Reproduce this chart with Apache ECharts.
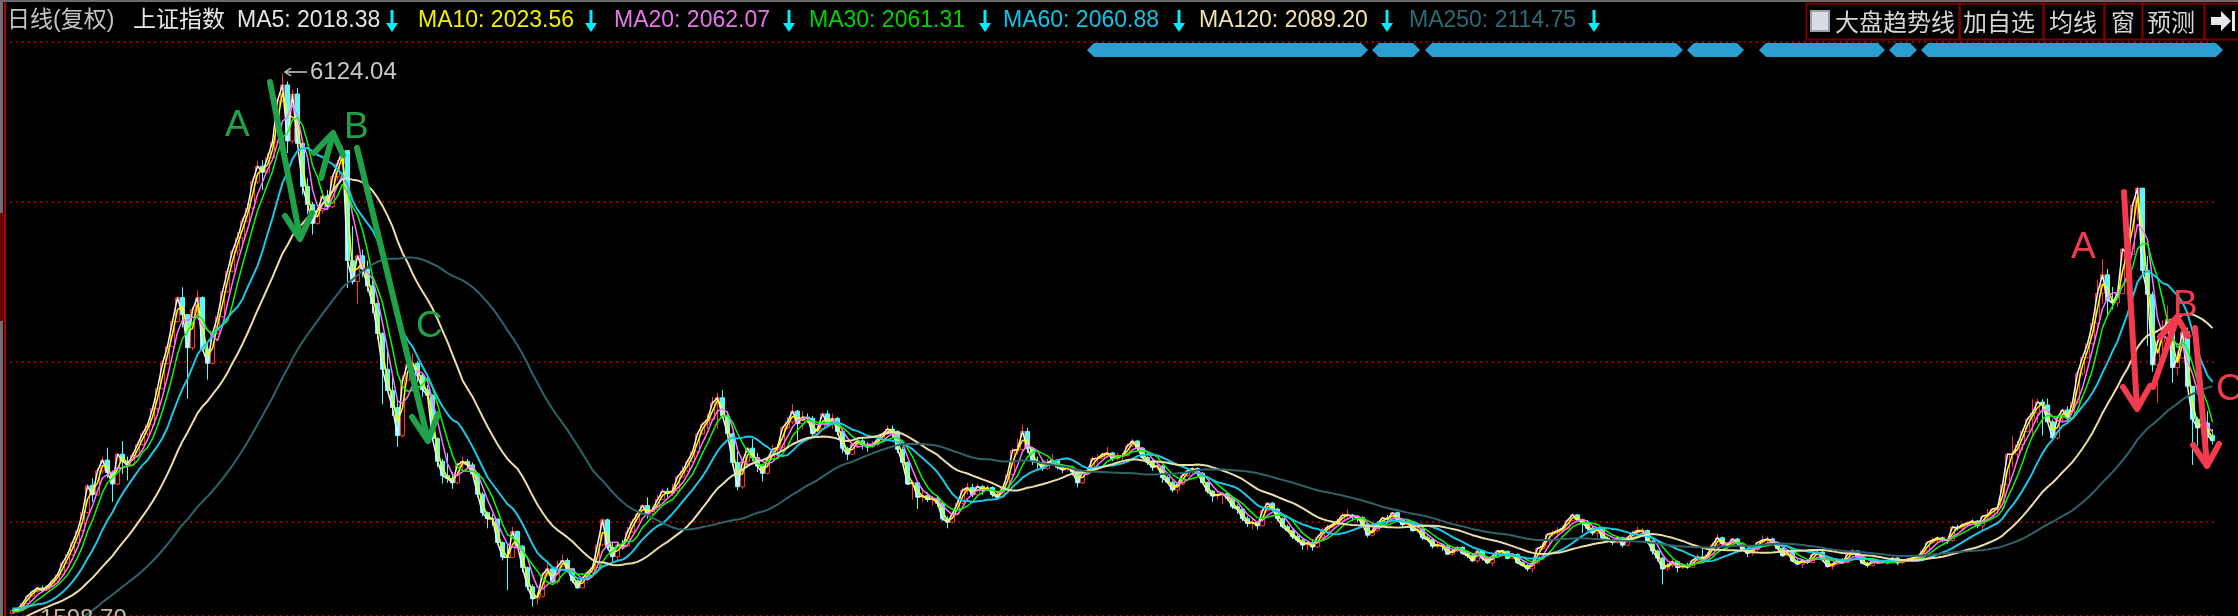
<!DOCTYPE html>
<html><head><meta charset="utf-8">
<script src="https://cdn.jsdelivr.net/npm/echarts/dist/echarts.min.js"></script>
<style>html,body{margin:0;padding:0;background:#000;}#c{width:2238px;height:616px;}</style>
</head><body><div id="c"></div>
<script>
// Each candle = one block of 5 trading days, [open, close, low, high]
const candles2006 = [[1605,1634,1599,1645],[1634,1640,1615,1660],[1640,1690,1632,1700],[1690,1752,1680,1758],
[1752,1790,1745,1800],[1790,1820,1782,1830],[1820,1800,1785,1840],[1800,1837,1795,1845],
[1837,1880,1830,1890],[1880,1930,1870,1940],[1930,2030,1925,2040],[2030,2099,2020,2115],
[2099,2200,2090,2215],[2200,2300,2190,2310],[2300,2450,2290,2470],[2450,2675,2440,2690]];
const candles2007 = [[2680,2600,2540,2740],[2600,2800,2590,2820],[2800,2890,2780,2920],[2890,2786,2740,2994],
[2786,2690,2541,2800],[2690,2940,2680,2950],[2940,2881,2771,3049],
[2881,2850,2720,2920],[2850,2930,2840,2950],[2930,3020,2920,3040],[3020,3110,3010,3130],[3110,3183,3090,3200],
[3183,3320,3170,3330],[3320,3490,3300,3500],[3490,3700,3480,3720],[3700,3841,3690,3861],
[3841,4050,3840,4070],[4050,4250,4040,4260],[4250,4109,4000,4336],
[4109,3830,3404,4110],[3830,4150,3810,4170],[4150,4250,4100,4312],[4250,3820,3800,4260],
[3820,3700,3563,3880],[3700,3950,3690,3960],[3950,4090,3940,4100],[4090,4300,4080,4310],[4300,4471,4290,4480],
[4471,4640,4460,4650],[4640,4750,4600,4800],[4750,4890,4700,4920],[4890,5000,4880,5040],[5000,5219,4990,5235],
[5219,5350,5200,5395],[5350,5300,5150,5400],[5300,5420,5290,5460],[5420,5552,5400,5570],
[5552,5900,5550,5914],[5900,6030,5880,6124],[6030,5560,5460,6060],[5560,5954,5540,5990],
[5954,5540,5520,6005],[5540,5180,5110,5570],[5180,5030,4950,5250],[5030,4871,4778,5050],
[4871,4980,4860,5000],[4980,5100,4950,5150],[5100,5010,4990,5150],[5010,5262,5000,5270]];
const candles2008 = [[5262,5370,5230,5400],[5370,5480,5370,5522],[5480,4560,4330,5480],[4560,4383,4360,4850],
[4383,4600,4195,4610],[4600,4490,4420,4650],[4490,4348,4300,4560],
[4348,4200,4120,4440],[4200,3950,3900,4210],[3950,3650,3357,3960],[3650,3472,3460,3800],
[3472,3330,3260,3620],[3330,3094,3000,3400],[3094,3557,3080,3600],[3557,3693,3550,3720],
[3693,3700,3580,3786],[3700,3600,3540,3720],[3600,3480,3420,3620],[3480,3433,3400,3520],
[3433,3070,3050,3440],[3070,2880,2830,3080],[2880,2760,2693,2900],[2760,2736,2700,2950],
[2736,2700,2650,2790],[2700,2850,2690,2870],[2850,2880,2800,2920],[2880,2850,2820,2900],[2850,2775,2760,2870],
[2775,2605,2580,2790],[2605,2450,2420,2620],[2450,2400,2319,2460],[2400,2397,2340,2440],
[2397,2200,2180,2400],[2200,2080,2050,2210],[2080,2075,1802,2190],[2075,2293,2070,2333],
[2293,2170,2150,2300],[2170,1990,1950,2180],[1990,1830,1800,2000],[1830,1729,1665,1850],
[1729,1750,1680,1780],[1750,1930,1740,1950],[1930,1980,1920,2050],[1980,1871,1860,2000],
[1871,2000,1850,2050],[2000,2050,1990,2100],[2050,1980,1950,2070],[1980,1880,1860,1990],[1880,1821,1814,1890]];
const candles2009 = [[1821,1900,1820,1940],[1900,1950,1880,1960],[1950,1991,1940,2000],
[1991,2180,1990,2200],[2180,2390,2170,2402],[2390,2160,2140,2400],[2160,2082,2040,2200],
[2082,2180,2037,2200],[2180,2170,2140,2220],[2170,2290,2160,2330],[2290,2373,2280,2400],
[2373,2440,2370,2460],[2440,2510,2430,2520],[2510,2440,2400,2579],[2440,2477,2430,2500],
[2477,2560,2470,2600],[2560,2630,2560,2650],[2630,2610,2580,2660],[2610,2633,2590,2690],
[2633,2750,2620,2760],[2750,2800,2740,2840],[2800,2880,2790,2900],[2880,2959,2870,2970],
[2959,3110,2950,3120],[3110,3190,3100,3210],[3190,3230,3150,3280],[3230,3370,3220,3420],[3370,3412,3150,3454],
[3412,3260,3240,3478],[3260,3110,3080,3300],[3110,2870,2840,3120],[2870,2667,2639,2960],
[2667,2880,2650,2900],[2880,2990,2860,3000],[2990,2910,2880,3068],[2910,2840,2790,2950],[2840,2779,2712,2860],
[2779,2900,2770,2920],[2900,2980,2890,3020],[2980,2996,2940,3020],
[2996,3160,2990,3170],[3160,3210,3150,3250],[3210,3300,3190,3361],[3300,3195,3050,3310],
[3195,3250,3150,3300],[3250,3240,3200,3280],[3240,3110,3090,3260],[3110,3150,3080,3170],[3150,3277,3140,3290]];
const candles2010 = [[3277,3196,3180,3306],[3196,3240,3150,3280],[3240,3130,3100,3250],[3130,2989,2950,3150],
[2989,2940,2890,3000],[2940,3020,2930,3030],[3020,3051,3000,3070],
[3051,3020,2980,3080],[3020,3000,2960,3040],[3000,3020,2990,3050],[3020,3060,3010,3080],[3060,3109,3050,3120],
[3109,3150,3100,3181],[3150,3130,3080,3180],[3130,2980,2950,3140],[2980,2870,2860,3000],
[2870,2690,2680,2880],[2690,2700,2560,2720],[2700,2580,2481,2710],[2580,2592,2540,2660],
[2592,2560,2540,2620],[2560,2570,2510,2590],[2570,2530,2500,2590],[2530,2398,2380,2550],
[2398,2370,2319,2420],[2370,2440,2360,2460],[2440,2530,2430,2560],[2530,2638,2520,2660],
[2638,2660,2600,2700],[2660,2600,2580,2690],[2600,2670,2590,2690],[2670,2638,2600,2680],
[2638,2660,2630,2680],[2660,2600,2580,2670],[2600,2580,2570,2620],[2580,2655,2570,2660],
[2655,2770,2650,2780],[2770,2970,2760,2990],[2970,2979,2940,3070],
[2979,3130,2960,3186],[3130,2985,2950,3160],[2985,2880,2850,2990],[2880,2870,2820,2920],[2870,2820,2800,2900],
[2820,2870,2810,2900],[2870,2890,2850,2940],[2890,2830,2810,2900],[2830,2808,2780,2850]];
const candles2011 = [[2808,2830,2800,2850],[2830,2790,2760,2840],[2790,2700,2661,2800],[2700,2790,2690,2800],
[2790,2800,2780,2830],[2800,2900,2790,2920],[2900,2905,2860,2940],
[2905,2940,2900,2950],[2940,2950,2910,3000],[2950,2900,2880,2960],[2900,2920,2890,2950],[2920,2928,2890,2950],
[2928,3010,2920,3030],[3010,3050,3000,3067],[3050,2990,2970,3060],[2990,2911,2900,3000],
[2911,2870,2850,2930],[2870,2830,2800,2890],[2830,2840,2810,2870],[2840,2743,2700,2850],
[2743,2705,2690,2760],[2705,2640,2620,2720],[2640,2690,2610,2700],[2690,2762,2680,2790],
[2762,2800,2750,2827],[2800,2820,2780,2830],[2820,2780,2760,2830],[2780,2701,2690,2790],
[2701,2630,2610,2710],[2630,2590,2540,2640],[2590,2600,2560,2630],[2600,2610,2520,2620],[2610,2568,2550,2620],
[2568,2500,2480,2580],[2500,2480,2440,2520],[2480,2400,2380,2490],[2400,2359,2330,2420],
[2359,2370,2310,2400],[2370,2340,2307,2380],[2340,2468,2330,2480],
[2468,2530,2460,2536],[2530,2480,2460,2540],[2480,2400,2380,2490],[2400,2333,2320,2410],
[2333,2300,2290,2350],[2300,2250,2230,2310],[2250,2220,2200,2270],[2220,2180,2140,2230],[2180,2199,2134,2210]];
const candles2012 = [[2199,2163,2132,2230],[2163,2245,2150,2260],[2245,2293,2230,2320],
[2293,2330,2280,2350],[2330,2350,2320,2370],[2350,2380,2340,2400],[2380,2429,2370,2450],
[2429,2430,2400,2478],[2430,2420,2380,2440],[2420,2410,2370,2430],[2410,2350,2330,2420],[2350,2262,2242,2360],
[2262,2300,2250,2320],[2300,2360,2290,2380],[2360,2406,2340,2420],[2406,2396,2380,2430],
[2396,2450,2390,2453],[2450,2390,2370,2460],[2390,2350,2330,2400],[2350,2372,2340,2390],
[2372,2300,2290,2380],[2300,2310,2280,2330],[2310,2240,2220,2320],[2240,2225,2210,2260],
[2225,2170,2150,2240],[2170,2180,2150,2200],[2180,2170,2130,2190],[2170,2103,2100,2180],
[2103,2130,2090,2150],[2130,2160,2120,2170],[2160,2110,2100,2170],[2110,2090,2070,2120],[2090,2047,2040,2100],
[2047,2130,2030,2140],[2130,2070,2050,2140],[2070,2030,2020,2080],[2030,2086,2001,2090],
[2086,2130,2080,2140],[2130,2128,2100,2140],[2128,2069,2060,2130],
[2069,2100,2060,2110],[2100,2030,2020,2110],[2030,2010,2000,2040],[2010,1980,1960,2020],
[1980,2030,1949,2040],[2030,2150,2020,2160],[2150,2170,2140,2200],[2170,2269,2160,2276]];
const candles2013 = [[2269,2280,2250,2300],[2280,2300,2240,2330],[2300,2320,2280,2340],[2320,2385,2310,2400],
[2385,2432,2380,2444],[2432,2390,2380,2440],[2390,2366,2280,2400],
[2366,2320,2300,2390],[2320,2280,2260,2340],[2280,2320,2240,2330],[2320,2237,2230,2330],
[2237,2220,2200,2250],[2220,2200,2180,2230],[2200,2240,2190,2250],[2240,2178,2161,2250],
[2178,2240,2170,2250],[2240,2280,2230,2300],[2280,2300,2270,2334],[2300,2301,2280,2320],
[2301,2210,2190,2310],[2210,2130,2100,2220],[2130,2070,2040,2140],[2070,1979,1849,2080],
[1979,2010,1960,2030],[2010,2040,1990,2060],[2040,1990,1950,2050],[1990,2010,1980,2030],[2010,1994,1980,2030],
[1994,2050,1990,2060],[2050,2080,2040,2100],[2080,2060,2040,2150],[2060,2098,2050,2120],
[2098,2180,2090,2200],[2180,2240,2170,2270],[2240,2190,2170,2250],[2190,2175,2150,2200],
[2175,2230,2170,2240],[2230,2190,2180,2240],[2190,2141,2130,2200],
[2141,2110,2080,2160],[2110,2140,2090,2160],[2140,2200,2130,2210],[2200,2220,2180,2260],
[2220,2230,2200,2250],[2230,2200,2190,2240],[2200,2150,2140,2210],[2150,2090,2080,2160],[2090,2116,2085,2130]];
const candles2014 = [[2116,2045,2040,2120],[2045,2020,2010,2060],[2020,2050,1985,2060],[2050,2033,2020,2060],
[2033,2100,2030,2110],[2100,2120,2090,2140],[2120,2056,2040,2130],
[2056,2000,1990,2070],[2000,2020,1974,2030],[2020,2050,2010,2060],[2050,2033,2020,2070],
[2033,2100,2030,2110],[2100,2130,2090,2146],[2130,2080,2060,2130],[2080,2026,2020,2090],
[2026,2010,1991,2040],[2010,2050,2000,2060],[2050,2030,2020,2060],[2030,2039,2020,2050],
[2039,2030,2020,2050],[2030,2070,2025,2080],[2070,2030,2010,2080],[2030,2048,2020,2060],
[2048,2060,2040,2070],[2060,2070,2050,2080],[2070,2080,2050,2090],[2080,2130,2070,2140],[2130,2201,2120,2210],
[2201,2220,2190,2240],[2220,2240,2200,2250],[2240,2220,2200,2250],[2220,2217,2190,2230],
[2217,2330,2210,2340],[2330,2320,2300,2350],[2320,2350,2300,2360],[2350,2364,2330,2370],
[2364,2380,2350,2400],[2380,2340,2320,2390],[2340,2420,2300,2430],
[2420,2430,2390,2480],[2430,2480,2420,2490],[2480,2490,2440,2500],[2490,2683,2480,2690],
[2683,2940,2680,2950],[2940,2940,2830,3091],[2940,3020,2900,3050],[3020,3130,2970,3150],[3130,3234,3120,3240]];
const candles2015 = [[3234,3285,3100,3400],[3285,3376,3200,3405],[3376,3351,3095,3400],[3351,3210,3200,3406],
[3210,3076,3050,3230],[3076,3247,3060,3260],[3247,3310,3200,3320],
[3310,3241,3200,3340],[3241,3373,3230,3380],[3373,3617,3360,3620],[3617,3748,3600,3760],
[3748,3864,3740,3880],[3864,4034,3850,4070],[4034,4287,4000,4400],[4287,4441,4200,4572],
[4441,4229,4099,4490],[4229,4206,4150,4340],[4206,4283,4170,4300],[4283,4657,4280,4660],[4657,4611,4300,4986],
[4611,5023,4610,5051],[5023,5166,4900,5178],[5166,4478,4450,5150],[4478,4277,3847,4600],
[4277,3687,3629,4300],[3687,3878,3373,3900],[3878,3957,3800,4060],[3957,4070,3950,4184],[4070,3664,3537,4070],
[3664,3744,3600,3800],[3744,3965,3740,4006],[3965,3508,3500,4000],[3508,3232,2850,3300],
[3232,3160,3011,3250],[3160,3200,3050,3230],[3200,3097,3040,3300],[3097,3052,3020,3150]];
// closes before the visible window, only used to warm up the moving averages
const warmupCloses = [1150,1160,1165,1162,1170,1215,1180,1155,1140,1120,1100,1092,1090,1095,1097,1100,
1110,1140,1150,1161,1180,1220,1258,1290,1282,1300,1299,1290,1280,1275,1298,1340,1380,1420,1440,
1560,1600,1560,1640,1600,1620,1660,1672,1700,1740,1690,1620,1600,1620,1610];

const maDays = [5,10,20,30,60,120,250];
const daysPerCandle = 5;
const maNames = ['MA5','MA10','MA20','MA30','MA60','MA120','MA250'];
const maHeaderValues = ['2018.38','2023.56','2062.07','2061.31','2060.88','2089.20','2114.75'];
const titleTexts = ['日线(复权)','上证指数'];
const buttonLabels = ['大盘趋势线','加自选','均线','窗','预测'];
const peakLabel = '6124.04';
const lowLabel = '1598.79';
const waveLabels = ['A','B','C'];

// ---- styles / layout (kept separate from the data) ----
const maColors = ['#f4f4f4','#ffff00','#ff70ff','#00ff00','#19c8e6','#eadfa8','#2e6468'];
const maTextColors = ['#e6e6e6','#f0f000','#e678e6','#00d200','#10c4e4','#f0e2b0','#2e6a74'];
const maWidths = [1.5,1.5,1.5,1.5,2,2,2];
const headerX = [237,418,614,809,1003,1199,1409];
const arrowX = [392,591,789,985,1179,1387,1594];

const candles = [].concat(candles2006,candles2007,candles2008,candles2009,candles2010,
  candles2011,candles2012,candles2013,candles2014,candles2015);
const closes = candles.map(c => c[1]);
const allCloses = warmupCloses.concat(closes);
function sma(arr, p) {
  const out = []; let s = 0;
  for (let i = 0; i < arr.length; i++) {
    s += arr[i]; if (i >= p) s -= arr[i - p];
    out.push(+(s / Math.min(p, i + 1)).toFixed(2));
  }
  return out;
}
const maSeries = maDays.map((d, k) => ({
  name: maNames[k], type: 'line', symbol: 'none', z: 3,
  data: sma(allCloses, d / daysPerCandle).slice(warmupCloses.length),
  lineStyle: { color: maColors[k], width: maWidths[k] }, silent: true
}));
const cats = candles.map((c, i) => 'k' + i);

const FONT = '"Liberation Sans","Noto Sans CJK SC",sans-serif';
const G = [];
// window frame
G.push({type:'rect', shape:{x:0,y:0,width:3,height:616}, style:{fill:'#707070'}});
G.push({type:'rect', shape:{x:0,y:213,width:3,height:108}, style:{fill:'#7a0000'}});
G.push({type:'rect', shape:{x:4,y:0,width:2,height:616}, style:{fill:'#b00000'}});
G.push({type:'rect', shape:{x:0,y:0,width:2238,height:2}, style:{fill:'#6a6a6a'}});
// header
G.push({type:'text', x:7, y:21, style:{text:titleTexts[0], fill:'#c4c4c4', font:'23px '+FONT, textVerticalAlign:'middle'}});
G.push({type:'text', x:133, y:21, style:{text:titleTexts[1], fill:'#e8e8e8', font:'23px '+FONT, textVerticalAlign:'middle'}});
maNames.forEach((n, k) => {
  G.push({type:'text', x:headerX[k], y:21, style:{text:n+': '+maHeaderValues[k], fill:maTextColors[k], font:'23px '+FONT, textVerticalAlign:'middle'}});
  const ax = arrowX[k];
  G.push({type:'line', shape:{x1:ax,y1:10,x2:ax,y2:30}, style:{stroke:'#00f0ff', lineWidth:3}});
  G.push({type:'polygon', shape:{points:[[ax-6,23],[ax+6,23],[ax,32]]}, style:{fill:'#00f0ff'}});
});
// buttons
const btnBoxes = [[1806,1959],[1959,2043],[2043,2104],[2104,2142],[2142,2204],[2204,2240]];
btnBoxes.forEach(b => G.push({type:'rect', shape:{x:b[0]+0.5,y:3.5,width:b[1]-b[0],height:36}, style:{fill:'none', stroke:'#7a0000', lineWidth:2}}));
G.push({type:'rect', shape:{x:1811,y:11,width:18,height:20}, style:{fill:'#d8dce4', stroke:'#9aa0a8', lineWidth:2}});
const btnTextX = [1835,1963,2049,2111,2147];
buttonLabels.forEach((t, i) => G.push({type:'text', x:btnTextX[i], y:22, style:{text:t, fill:'#d6d6d6', font:'24px "Noto Sans CJK SC",sans-serif', textVerticalAlign:'middle'}}));
G.push({type:'polygon', shape:{points:[[2211,17],[2221,17],[2221,11],[2231,21],[2221,31],[2221,25],[2211,25]]}, style:{fill:'#e8e8e8'}});
G.push({type:'rect', shape:{x:2232,y:11,width:3,height:20}, style:{fill:'#e8e8e8'}});
// blue band
const bandSegs = [[1087,1368],[1372,1420],[1425,1683],[1687,1744],[1759,1885],[1889,1917],[1921,2223]];
bandSegs.forEach(s => G.push({type:'polygon', shape:{points:[[s[0],50],[s[0]+7,43],[s[1]-7,43],[s[1],50],[s[1]-7,57],[s[0]+7,57]]}, style:{fill:'#2aa0d2'}}));
// peak / low labels
G.push({type:'line', shape:{x1:285,y1:72,x2:307,y2:72}, style:{stroke:'#c8c8c8', lineWidth:1.5}});
G.push({type:'polyline', shape:{points:[[291,68],[285,72],[291,76]]}, style:{stroke:'#c8c8c8', lineWidth:1.5, fill:null}});
G.push({type:'text', x:310, y:72, style:{text:peakLabel, fill:'#c8c8c8', font:'24px '+FONT, textVerticalAlign:'middle'}});
G.push({type:'text', x:40, y:607, style:{text:lowLabel, fill:'#c8b8a0', font:'24px '+FONT, textVerticalAlign:'top'}});
// wave annotations
function arrow(shaft, head, color) {
  G.push({type:'line', z:120, shape:{x1:shaft[0],y1:shaft[1],x2:shaft[2],y2:shaft[3]}, style:{stroke:color, lineWidth:6, lineCap:'round'}});
  G.push({type:'polyline', z:120, shape:{points:head}, style:{stroke:color, lineWidth:6, lineCap:'round', lineJoin:'round', fill:null}});
}
function letter(t, x, y, color) {
  G.push({type:'text', z:120, x:x, y:y, style:{text:t, fill:color, font:'37px '+FONT, textVerticalAlign:'top'}});
}
const GREEN = '#1fa24a', RED = '#f43a4e';
letter(waveLabels[0], 225, 107, GREEN);
arrow([270,82,300,237], [[285,216],[300,239],[312,213]], GREEN);
arrow([321,178,333,134], [[314,153],[333,133],[343,155]], GREEN);
letter(waveLabels[1], 344, 109, GREEN);
arrow([357,148,428,440], [[412,417],[428,441],[438,414]], GREEN);
letter(waveLabels[2], 416, 308, GREEN);
letter(waveLabels[0], 2071, 229, RED);
arrow([2124,192,2137,408], [[2123,387],[2137,409],[2150,386]], RED);
arrow([2153,387,2177,318], [[2160,337],[2177,317],[2188,336]], RED);
letter(waveLabels[1], 2173, 287, RED);
arrow([2195,328,2207,465], [[2193,445],[2207,466],[2219,444]], RED);
letter(waveLabels[2], 2216, 371, RED);
G.forEach(e => { if (e.z == null) e.z = 100; });

const chart = echarts.init(document.getElementById('c'), null, {renderer:'canvas'});
chart.setOption({
  backgroundColor: '#000000',
  animation: false,
  grid: { left: 10, right: 23, top: 42, bottom: 0 },
  xAxis: { type: 'category', data: cats, boundaryGap: true, show: false },
  yAxis: [
    { type: 'value', min: 1585.4, max: 6389, show: false, scale: true },
    { type: 'value', min: 0, max: 3.5875, interval: 1, inverse: true, position: 'right',
      axisLine: {show:false}, axisTick: {show:false}, axisLabel: {show:false},
      splitLine: { show: true, lineStyle: { color: '#8f0000', type: [2,4], width: 2 } } }
  ],
  series: [
    { type: 'candlestick', data: candles, barWidth: 4, z: 2, silent: true,
      itemStyle: { color: '#000000', color0: '#54fcfc', borderColor: '#ff3232', borderColor0: '#54fcfc', borderWidth: 1 } }
  ].concat(maSeries),
  graphic: G
});
</script></body></html>
